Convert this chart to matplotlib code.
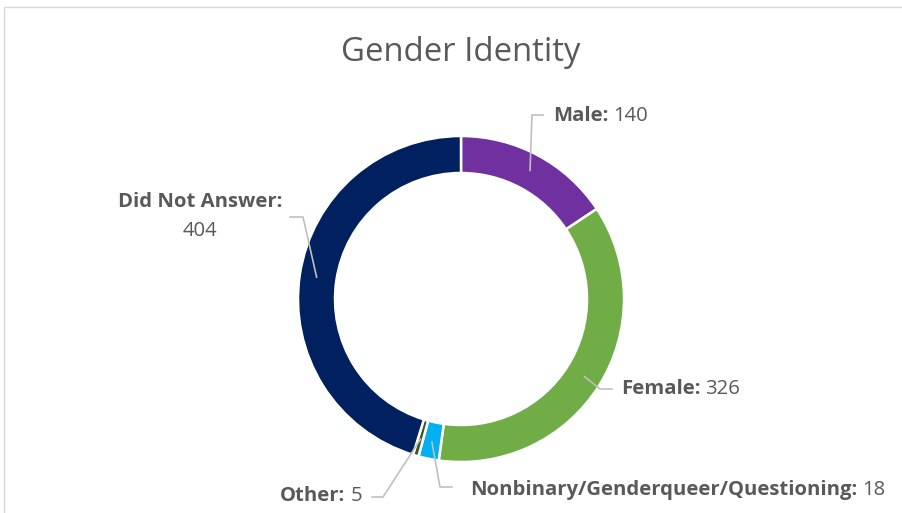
import matplotlib.pyplot as plt
import numpy as np
from matplotlib.patches import Rectangle

categories = ["Male", "Female", "Nonbinary/Genderqueer/Questioning", "Other", "Did Not Answer"]
counts = [140, 326, 18, 5, 404]
colors = ["#7030A0", "#70AD47", "#00B0F0", "#385723", "#002060"]

W, H = 903, 513
TXT = "#595959"
LINE = "#BFBFBF"
plt.rcParams['font.family'] = ['Open Sans', 'DejaVu Sans']

fig = plt.figure(figsize=(W / 100, H / 100), dpi=100)
ax = fig.add_axes([0, 0, 1, 1])

# pixel space, y up
cx, cy = 461, H - 299
radius = 163

ax.pie(counts, colors=colors, startangle=90, counterclock=False,
       center=(cx, cy), radius=radius,
       wedgeprops=dict(width=37, edgecolor="white", linewidth=1.8))
ax.set_xlim(0, W)
ax.set_ylim(0, H)
ax.set_aspect("equal")
ax.axis("off")

# chart border
fig.patches.append(Rectangle((4 / W, -0.1), 1.2, (H - 7) / H + 0.1,
                             transform=fig.transFigure, fill=False,
                             edgecolor="#D9D9D9", linewidth=1))

ax.text(cx, H - 52, "Gender Identity", ha="center", va="center",
        fontsize=23.7, color=TXT)

# label layout in pixels (y down): elbow, line end, text anchor
layout = {
    "Male": ((532, 115), (543, 115), (553, 116), "left"),
    "Female": ((600, 389), (612, 389), (621, 389), "left"),
    "Nonbinary/Genderqueer/Questioning": ((440, 487), (452, 487), (470, 490), "left"),
    "Other": ((383, 497), (372, 497), (280, 496), "left"),
    "Did Not Answer": ((303, 217), (290, 217), (200, 202), "center"),
}

fig.canvas.draw()
renderer = fig.canvas.get_renderer()
total = sum(counts)
cum = np.cumsum([0] + counts)
fs = 14.6
for i, (cat, val) in enumerate(zip(categories, counts)):
    mid = (cum[i] + cum[i + 1]) / 2 / total * 2 * np.pi
    ax_x = cx + 146 * np.sin(mid)
    ax_y = cy + 146 * np.cos(mid)
    elbow, end, pos, ha = layout[cat]
    ax.plot([ax_x, elbow[0], end[0]], [ax_y, H - elbow[1], H - end[1]],
            color=LINE, linewidth=1.2)
    if ha == "center":
        ax.text(pos[0], H - pos[1], cat + ":", ha="center", va="center",
                fontsize=fs, fontweight="bold", color=TXT)
        ax.text(pos[0], H - pos[1] - 29, str(val), ha="center", va="center",
                fontsize=fs, color=TXT)
    else:
        t = ax.text(pos[0], H - pos[1], cat + ":", ha="left", va="center",
                    fontsize=fs, fontweight="bold", color=TXT)
        bb = t.get_window_extent(renderer)
        ax.text(bb.x1 + 5, H - pos[1], str(val), ha="left", va="center",
                fontsize=fs, color=TXT)

fig.savefig("out.png", dpi=100)
